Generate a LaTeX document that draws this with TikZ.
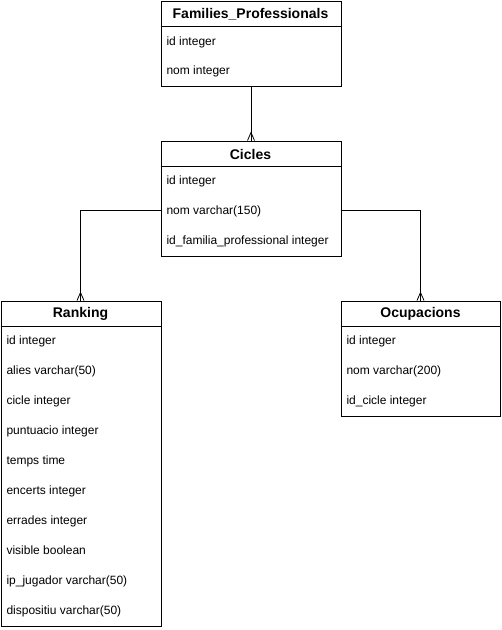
\documentclass[tikz,border=0pt]{standalone}
\usepackage{fontspec}
\setmainfont{Liberation Sans}
\usetikzlibrary{calc}
\begin{document}
\begin{tikzpicture}[x=1pt,y=-1pt,line width=1pt,
  tbl/.style={draw,rectangle,inner sep=0pt,anchor=north west},
  hdr/.style={font=\fontsize{14}{16}\selectfont\bfseries,inner sep=0pt},
  row/.style={font=\fontsize{12}{14}\selectfont,inner sep=0pt,anchor=west,text height=9pt,text depth=2.5pt,yshift=-0.8pt},
  rel/.style={draw,line width=1pt},
  foot/.style={draw,line width=0.8pt}]
\useasboundingbox (0,0) rectangle (502,630);
\fill[white] (0,0) rectangle (502,630);
% Families_Professionals
\node[tbl,minimum width=180pt,minimum height=85pt] (fam) at (160.5,0.5) {};
\node[hdr] (famh) at (250.5,14) {Families\_Professionals};
\draw (160.5,26) -- (340.5,26);
\node[row] (fam1) at (166,41) {id integer};
\node[row] (fam2) at (166,70) {nom integer};
% Cicles
\node[tbl,minimum width=180pt,minimum height=115.5pt] (cic) at (160.5,140.5) {};
\node[hdr] (cich) at (250.5,154) {Cicles};
\draw (160.5,166) -- (340.5,166);
\node[row] (cic1) at (166,180) {id integer};
\node[row] (cic2) at (166,210) {nom varchar(150)};
\node[row] (cic3) at (166,240) {id\_familia\_professional integer};
% Ranking
\node[tbl,minimum width=160pt,minimum height=325.5pt] (ran) at (0.5,300.5) {};
\node[hdr] (ranh) at (80.5,314) {Ranking};
\draw (0.5,326) -- (160.5,326);
\node[row] (ran1) at (6,340) {id integer};
\node[row] (ran2) at (6,370) {alies varchar(50)};
\node[row] (ran3) at (6,400) {cicle integer};
\node[row] (ran4) at (6,430) {puntuacio integer};
\node[row] (ran5) at (6,460) {temps time};
\node[row] (ran6) at (6,490) {encerts integer};
\node[row] (ran7) at (6,520) {errades integer};
\node[row] (ran8) at (6,550) {visible boolean};
\node[row] (ran9) at (6,580) {ip\_jugador varchar(50)};
\node[row] (ran10) at (6,610) {dispositiu varchar(50)};
% Ocupacions
\node[tbl,minimum width=159.5pt,minimum height=115.5pt] (ocu) at (340.5,300.5) {};
\node[hdr] (ocuh) at (420.5,314) {Ocupacions};
\draw (340.5,326) -- (500,326);
\node[row] (ocu1) at (346,340) {id integer};
\node[row] (ocu2) at (346,370) {nom varchar(200)};
\node[row] (ocu3) at (346,400) {id\_cicle integer};
% connectors
\coordinate (cl) at (160.5,210);
\coordinate (cr) at (340.5,210);
\coordinate (rt) at (80.5,300.5);
\coordinate (ot) at (420.5,300.5);
\draw[rel] (fam.south) -- (cic.north);
\draw[rel] (cl) -| (rt);
\draw[rel] (cr) -| (ot);
% crow's feet
\foreach \p in {cic.north,rt,ot}{
  \draw[foot] ($(\p)+(-3.5,0)$) -- ($(\p)+(0,-8)$) -- ($(\p)+(3.5,0)$);
}
\end{tikzpicture}
\end{document}
